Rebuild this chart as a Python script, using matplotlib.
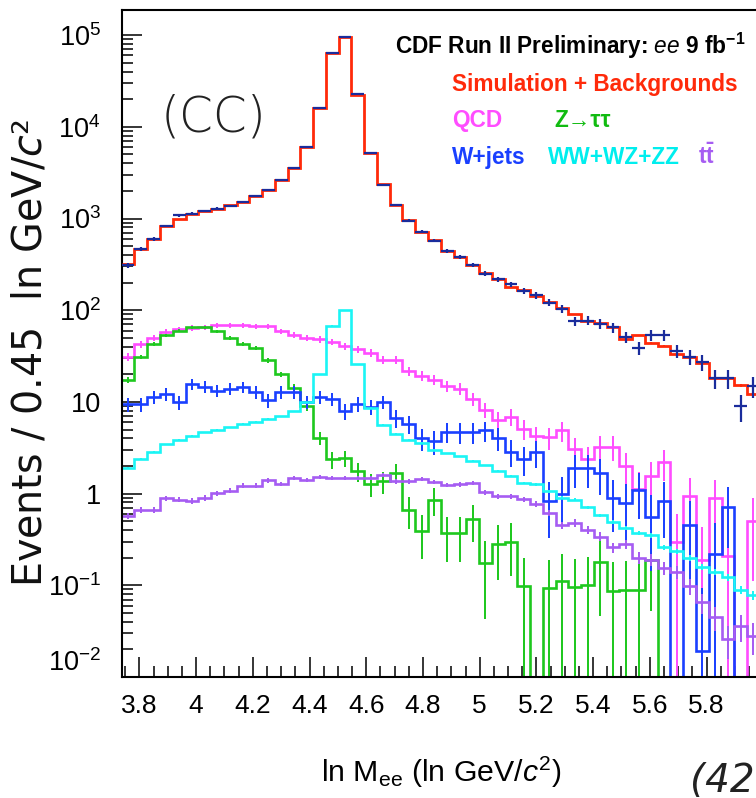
import numpy as np
import matplotlib
matplotlib.use('Agg')
import matplotlib.pyplot as plt
from matplotlib import font_manager as fm
from matplotlib.ticker import FixedLocator, NullFormatter

# ---------------- data ----------------
bin_low = np.log(42.0)      # first bin edge, ln GeV/c^2
bin_width = 0.045
n_bins = 50

sim_bkg = [321, 460, 592, 826, 990, 1125, 1220, 1280, 1390, 1510,
           1750, 2050, 2600, 3550, 6000, 16100, 63700, 95000, 22500, 5160,
           2350, 1390, 953, 715, 577, 441, 379, 308, 254, 217,
           179, 164, 143, 123, 105, 90, 77, 72, 65, 49,
           53, 44, 41, 33, 30.8, 26.7, 18.3, 18.3, 15.1, 12.2]

data = [308, 462, 600, 830, 1080, 1130, 1215, 1285, 1380, 1505,
        1745, 2060, 2610, 3540, 6010, 16050, 63500, 95200, 22600, 5150,
        2340, 1400, 950, 720, 575, 440, 378, 310, 250, 218,
        191, 163, 145, 121, 104, 76, 77, 71, 65, 51,
        39, 53, 53, 36, 31, 27, 18, 18, 9, 15]

qcd = [30.8, 42.4, 50, 57.7, 61.7, 64.3, 65.4, 68.8, 68.8, 68.8,
       66.6, 66.6, 58.7, 53.9, 49.6, 48, 44.9, 40.3, 37.4, 34.3,
       28.8, 28.8, 21.7, 19.2, 17.5, 14.8, 13.9, 10.8, 8.2, 6.4,
       6.9, 5.1, 4.2, 4.1, 4.9, 3.08, 2.4, 3.25, 3.25, 2.0,
       1.12, 1.54, 2.2, 0.296, 0.94, 0.19, 0.89, 0.207, 0.0, 0.5]

ztautau = [17.4, 30.8, 42.4, 53, 60, 65.4, 65.4, 58.7, 50, 42.4,
           38.6, 28.4, 20, 14.3, 9.0, 4.06, 2.36, 2.45, 1.76, 1.28,
           1.37, 1.67, 0.67, 0.39, 0.86, 0.37, 0.37, 0.53, 0.175, 0.284,
           0.30, 0.098, 0.0, 0.094, 0.112, 0.097, 0.101, 0.18, 0.086, 0.089,
           0.089, 0.19, 0, 0, 0, 0, 0, 0, 0, 0]

wjets = [9.4, 9.4, 11.3, 12.1, 9.9, 15.7, 14.7, 13.3, 13.9, 14.5,
         12.8, 10.4, 12.8, 12.8, 10.0, 11.3, 10.8, 7.9, 9.5, 8.8,
         10.0, 6.65, 5.77, 4.0, 3.72, 4.75, 4.69, 4.69, 4.89, 4.05,
         2.87, 2.4, 2.84, 0.83, 0.99, 1.91, 1.91, 1.67, 0.9, 0.79,
         1.1, 0.55, 0.83, 0.0, 0.46, 0.019, 0.217, 0.72, 0.0, 0.0]

diboson = [1.91, 2.4, 2.84, 3.44, 3.87, 4.24, 4.65, 5.0, 5.31, 5.77,
           6.07, 6.55, 6.95, 7.87, 10.0, 20.0, 68, 99.5, 26, 8.6,
           5.6, 4.49, 3.87, 3.55, 3.0, 2.74, 2.54, 2.26, 2.03, 1.76,
           1.54, 1.3, 1.26, 1.06, 0.9, 0.86, 0.71, 0.58, 0.49, 0.42,
           0.375, 0.35, 0.26, 0.236, 0.2, 0.16, 0.14, 0.123, 0.089, 0.078]

ttbar = [0.57, 0.66, 0.66, 0.89, 0.86, 0.83, 0.9, 1.01, 1.08, 1.22,
         1.22, 1.39, 1.28, 1.48, 1.42, 1.51, 1.48, 1.48, 1.48, 1.49,
         1.58, 1.36, 1.36, 1.45, 1.34, 1.25, 1.26, 1.3, 1.04, 0.94,
         0.94, 0.87, 0.77, 0.62, 0.45, 0.48, 0.4, 0.34, 0.26, 0.28,
         0.2, 0.19, 0.153, 0.14, 0.098, 0.065, 0.045, 0.026, 0.036, 0.028]

# effective per-event weight of each simulated sample (error = sqrt(w * content))
mc_weight = {'sim': 0.02, 'qcd': 0.3, 'ztt': 0.1, 'wj': 0.3, 'vv': 0.001, 'tt': 0.004}

x_ticks = [3.8, 4.0, 4.2, 4.4, 4.6, 4.8, 5.0, 5.2, 5.4, 5.6, 5.8]
x_ticklabels = ['3.8', '4', '4.2', '4.4', '4.6', '4.8', '5', '5.2', '5.4', '5.6', '5.8']
y_ticks = [1e-2, 1e-1, 1, 10, 1e2, 1e3, 1e4, 1e5]
y_ticklabels = [r'$10^{-2}$', r'$10^{-1}$', '1', '10', r'$10^{2}$', r'$10^{3}$',
                r'$10^{4}$', r'$10^{5}$']

# ---------------- style ----------------
names = {f.name for f in fm.fontManager.ttflist}
if 'Liberation Sans Narrow' in names:
    NARROW = 'Liberation Sans Narrow'
    FS_XT, FS_YT, FS_LEG, FS_XL = 22, 24, 20.5, 26
else:
    NARROW = 'Liberation Sans'
    FS_XT, FS_YT, FS_LEG, FS_XL = 19, 19.5, 16.3, 21.8

plt.rcParams['mathtext.fontset'] = 'custom'
plt.rcParams['mathtext.rm'] = NARROW
plt.rcParams['mathtext.it'] = NARROW + ':italic'
plt.rcParams['mathtext.bf'] = NARROW + ':bold'
plt.rcParams['mathtext.sf'] = 'DejaVu Sans:italic'

C_RED = '#ff2a0a'
C_DATA = '#1a2c9c'
C_QCD = '#ff4dff'
C_ZTT = '#1ec81e'
C_WJ = '#1a40ff'
C_VV = '#1af5f5'
C_TT = '#a65cf2'

W, H = 756, 798
fig = plt.figure(figsize=(W / 100, H / 100), dpi=100)

edges = bin_low + bin_width * np.arange(n_bins + 1)
centers = 0.5 * (edges[:-1] + edges[1:])

px_per_unit = 283.6
ax_left_px, ax_bottom_px, ax_top_px = 121.7, 677.0, 10.0
ax_right_px = ax_left_px + (edges[-1] - edges[0]) * px_per_unit
ax = fig.add_axes([ax_left_px / W, (H - ax_bottom_px) / H,
                   (ax_right_px - ax_left_px) / W, (ax_bottom_px - ax_top_px) / H])

YMIN = 1e-2
YMAX = 10 ** (-2 + (ax_bottom_px - ax_top_px) / 91.7)
ax.set_yscale('log')
ax.set_xlim(edges[0], edges[-1])
ax.set_ylim(YMIN, YMAX)


def draw_hist(vals, color, w, lw=1.9, z=2):
    v = np.asarray(vals, float)
    shown = np.where(v > 0, v, YMIN)
    ax.stairs(shown, edges, baseline=None, color=color, lw=lw, zorder=z)
    err = np.sqrt(w * v)
    lo = np.clip(v - err, YMIN * 0.5, None)
    hi = v + err
    m = v > 0
    ax.vlines(centers[m], lo[m], hi[m], color=color, lw=lw * 0.75, zorder=z)


draw_hist(qcd, C_QCD, mc_weight['qcd'])
draw_hist(ztautau, C_ZTT, mc_weight['ztt'])
draw_hist(wjets, C_WJ, mc_weight['wj'])
draw_hist(diboson, C_VV, mc_weight['vv'])
draw_hist(ttbar, C_TT, mc_weight['tt'])
draw_hist(sim_bkg, C_RED, mc_weight['sim'], lw=2.0, z=3)

d = np.asarray(data, float)
ax.errorbar(centers, d, xerr=bin_width / 2, yerr=np.sqrt(d), fmt='none',
            ecolor=C_DATA, elinewidth=1.6, capsize=0, zorder=4)

# axes styling (ROOT-like)
for s in ['left', 'bottom', 'top', 'right']:
    ax.spines[s].set_linewidth(1.5)
    ax.spines[s].set_color('black')

ax.xaxis.set_major_locator(FixedLocator(x_ticks))
ax.set_xticklabels(x_ticklabels)
ax.xaxis.set_minor_locator(FixedLocator(np.arange(3.75, 6.0, 0.05)))
ax.yaxis.set_major_locator(FixedLocator(y_ticks))
ax.set_yticklabels(y_ticklabels)
minors = [m * 10.0 ** e for e in range(-2, 6) for m in range(2, 10)]
ax.yaxis.set_minor_locator(FixedLocator(minors))
ax.yaxis.set_minor_formatter(NullFormatter())

ax.tick_params(axis='both', which='major', direction='in', length=14.5, width=1.1,
               top=False, right=False, color='black')
ax.tick_params(axis='both', which='minor', direction='in', length=8, width=1.1,
               top=False, right=False, color='black')
ax.tick_params(axis='x', which='major', pad=12, labelsize=FS_XT)
ax.tick_params(axis='y', which='major', pad=15, labelsize=FS_YT)
for lab in ax.get_xticklabels() + ax.get_yticklabels():
    lab.set_family(NARROW)
ax.get_yticklabels()[0].set_verticalalignment('bottom')

# axis titles
fig.text(31 / W, 1 - 353 / H, r'Events / 0.45  ln GeV/$\mathsf{c}$²', rotation=90,
         ha='center', va='center', fontsize=28.5, family='DejaVu Sans', color='#111111')
fig.text(441 / W, 1 - 772 / H, r'ln M$_{\mathrm{ee}}$ (ln GeV/$\mathit{c}^{2}$)',
         ha='center', va='center', fontsize=FS_XL, family=NARROW)

# labels inside the frame
fig.text(213 / W, 1 - 118 / H, '(CC)', ha='center', va='center', fontsize=35,
         family='DejaVu Sans', weight='light', color='#222222')

fig.text(395 / W, 1 - 54 / H, r'CDF Run II Preliminary: $\mathit{ee}$ 9 fb$^{\mathbf{-1}}$',
         ha='left', va='baseline', fontsize=FS_LEG, family=NARROW, weight='bold')
fig.text(452 / W, 1 - 91 / H, 'Simulation + Backgrounds', ha='left', va='baseline',
         fontsize=FS_LEG, family=NARROW, weight='bold', color=C_RED)
fig.text(452 / W, 1 - 127 / H, 'QCD', ha='left', va='baseline',
         fontsize=FS_LEG, family=NARROW, weight='bold', color=C_QCD)
fig.text(554 / W, 1 - 127 / H, 'Z→ττ', ha='left', va='baseline',
         fontsize=FS_LEG, family=[NARROW, 'DejaVu Sans'], weight='bold', color='#11bb11')
fig.text(452 / W, 1 - 164 / H, 'W+jets', ha='left', va='baseline',
         fontsize=FS_LEG, family=NARROW, weight='bold', color=C_WJ)
fig.text(548 / W, 1 - 164 / H, 'WW+WZ+ZZ', ha='left', va='baseline',
         fontsize=FS_LEG, family=NARROW, weight='bold', color='#00eeee')
fig.text(698 / W, 1 - 164 / H, r'$\mathbf{t\bar{t}}$', ha='left', va='baseline',
         fontsize=FS_LEG, color=C_TT)

# fragment of neighbouring page text
fig.text(690 / W, 1 - 762 / H, '(42', ha='left', va='top', fontsize=28,
         family='DejaVu Sans', style='italic', weight='light', color='#222222')

fig.savefig('out.png', dpi=100)
